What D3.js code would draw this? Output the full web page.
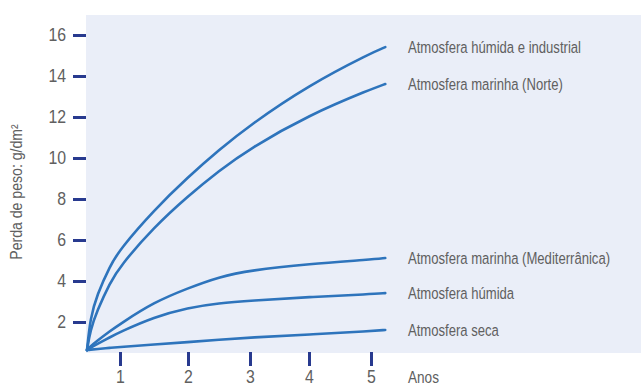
<!doctype html>
<html lang="pt">
<head>
    <meta charset="UTF-8">
    <title>Perda de peso</title>
    <style>
        body { margin: 0; background: #fff; }
        text { font-family: 'Liberation Sans', Arial, sans-serif; fill: #606060; }
    </style>
</head>
<body>
<div id="chart"></div>
<script src="https://d3js.org/d3.v7.min.js"></script>
<script>
    // anos (eixo x)
    const years = [0, 0.1, 0.3, 0.7, 1, 1.5, 2, 2.5, 3, 4, 5, 5.23]

    // perda de peso g/dm2, uma lista por atmosfera
    const humidaIndustrial = [0.63, 2.19, 3.31, 4.75, 5.55, 7.46, 9.07, 10.39, 11.61, 13.56, 15.12, 15.41]
    const marinhaNorte = [0.63, 1.59, 2.53, 3.92, 4.72, 6.63, 8.14, 9.38, 10.47, 12.1, 13.36, 13.61]
    const marinhaMed = [0.63, 0.8, 1.07, 1.56, 1.9, 2.97, 3.65, 4.2, 4.52, 4.83, 5.05, 5.12]
    const humida = [0.63, 0.74, 0.92, 1.26, 1.51, 2.24, 2.7, 2.92, 3.04, 3.22, 3.36, 3.41]
    const seca = [0.63, 0.65, 0.68, 0.74, 0.78, 0.9, 1.02, 1.14, 1.24, 1.39, 1.56, 1.61]

    const seriesNames = ['Atmosfera húmida e industrial', 'Atmosfera marinha (Norte)',
        'Atmosfera marinha (Mediterrânica)', 'Atmosfera húmida', 'Atmosfera seca']
    const seriesValues = [humidaIndustrial, marinhaNorte, marinhaMed, humida, seca]

    const yTicks = [2, 4, 6, 8, 10, 12, 14, 16]
    const xTicks = [1, 2, 3, 4, 5]

    const width = 641, height = 386
    const panel = {left: 86, top: 15, bottom: 353}
    const tickColor = '#283a8f'
    const lineColor = '#2e74bc'

    // the original uses a condensed face: squeeze each text horizontally around its x
    function condense(sel, f) {
        sel.each(function() {
            const x = +this.getAttribute('x') || 0
            d3.select(this).attr('transform', 'translate(' + (x * (1 - f)) + ',0) scale(' + f + ',1)')
        })
    }

    const svg = d3.select('#chart')
        .append('svg')
            .attr('width', width)
            .attr('height', height)

    // the tick spacing in the original is uneven, so the x scale is piecewise
    const xScale = d3.scaleLinear()
        .domain([0, 1, 2, 3, 4, 5])
        .range([87, 120, 188, 250, 309, 371])

    const yScale = d3.scaleLinear()
        .domain([0, 16])
        .range([363, 35])

    // background panel
    svg.append('rect')
        .attr('x', panel.left)
        .attr('y', panel.top)
        .attr('width', width - panel.left)
        .attr('height', panel.bottom - panel.top)
        .style('fill', '#eaeef8')

    // y axis
    const yAxis = svg.append('g')
        .attr('transform', 'translate(' + panel.left + ',0)')
        .call(d3.axisLeft(yScale).tickValues(yTicks).tickSize(13).tickPadding(7))
    yAxis.select('.domain').remove()
    yAxis.selectAll('line').style('stroke', tickColor).style('stroke-width', 3)
    yAxis.selectAll('text')
        .attr('font-family', null)
        .attr('font-size', null)
        .style('font-size', '18px')
        .style('fill', '#606060')
        .call(condense, 0.88)

    // x axis
    const xAxis = svg.append('g')
        .attr('transform', 'translate(0,' + (panel.bottom - 1) + ')')
        .call(d3.axisBottom(xScale).tickValues(xTicks).tickFormat(d3.format('d')).tickSize(14))
    xAxis.select('.domain').remove()
    xAxis.selectAll('line').style('stroke', tickColor).style('stroke-width', 3)
    xAxis.selectAll('text')
        .attr('y', 31)
        .attr('dy', null)
        .style('font-size', '18px')
        .style('fill', '#606060')
        .call(condense, 0.88)

    svg.append('text')
        .attr('x', 408)
        .attr('y', 383)
        .style('font-size', '17px')
        .text('Anos')
        .call(condense, 0.8)

    const title = svg.append('text')
        .attr('transform', 'translate(22,192) rotate(-90)')
        .attr('text-anchor', 'middle')
        .style('font-size', '16px')
        .text('Perda de peso: g/dm²')
    title.attr('textLength', title.node().getComputedTextLength() * 0.88)
        .attr('lengthAdjust', 'spacingAndGlyphs')

    // lines
    const line = d3.line()
        .x((d, i) => xScale(years[i]))
        .y(d => yScale(d))
        .curve(d3.curveBasis)

    svg.selectAll('.serie')
        .data(seriesValues)
        .enter()
        .append('path')
            .attr('class', 'serie')
            .attr('d', line)
            .style('fill', 'none')
            .style('stroke', lineColor)
            .style('stroke-width', 2.6)
            .style('stroke-linecap', 'round')

    // labels at the end of each line
    svg.selectAll('.label')
        .data(seriesValues)
        .enter()
        .append('text')
            .attr('class', 'label')
            .attr('x', 408)
            .attr('y', d => yScale(d[d.length - 1]))
            .attr('dy', '0.35em')
            .style('font-size', '17px')
            .text((d, i) => seriesNames[i])
            .call(condense, 0.77)
</script>
</body>
</html>
